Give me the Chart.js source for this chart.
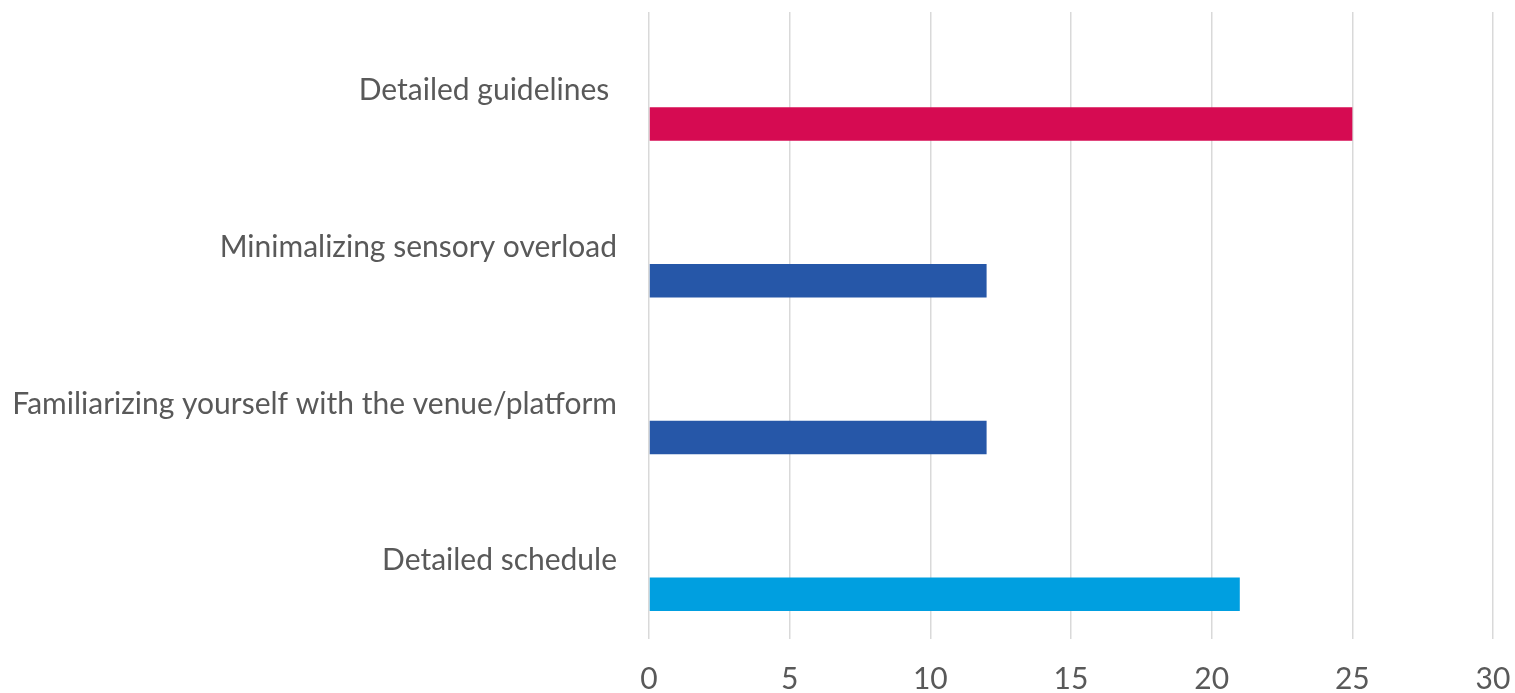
<!DOCTYPE html>
<html lang="en">
<head>
    <meta charset="UTF-8">
    <title>Preparation support</title>
    <script src="https://cdn.jsdelivr.net/npm/chart.js"></script>
    <style>
        html, body { margin: 0; padding: 0; background: #fff; overflow: hidden; }
        canvas { display: block; }
    </style>
</head>
<body>
    <canvas id="chart" width="1515" height="693"></canvas>
    <script>
        const categories = [
            "Detailed guidelines ",
            "Minimalizing sensory overload",
            "Familiarizing yourself with the venue/platform",
            "Detailed schedule"
        ];
        const values = [25, 12, 12, 21];
        // empty first series, so the bars sit below their labels like the original
        const spacer = [null, null, null, null];
        const barColors = ["#D60B52", "#2657A8", "#2657A8", "#009FE0"];
        const xTicks = [0, 5, 10, 15, 20, 25, 30];

        const textColor = "#595959";
        const font = { family: "Lato", size: 30 };

        new Chart(document.getElementById("chart"), {
            type: 'bar',
            data: {
                labels: categories,
                datasets: [
                    { label: 'spacer', data: spacer, backgroundColor: 'rgba(0,0,0,0)' },
                    { label: 'Count', data: values, backgroundColor: barColors }
                ]
            },
            options: {
                indexAxis: 'y',
                responsive: false,
                animation: false,
                categoryPercentage: 0.858,
                barPercentage: 0.5,
                layout: { padding: { top: 12, right: 22, left: 0, bottom: 0 } },
                plugins: {
                    legend: { display: false },
                    tooltip: { enabled: false }
                },
                scales: {
                    x: {
                        min: xTicks[0],
                        max: xTicks[xTicks.length - 1],
                        afterBuildTicks: s => { s.ticks = xTicks.map(v => ({ value: v })); },
                        afterFit: s => { s.height = 54; s.paddingLeft = 0; s.paddingRight = 0; },
                        border: { display: false },
                        grid: { color: '#D9D9D9', lineWidth: 1.5, drawTicks: false },
                        ticks: { color: textColor, font: font, padding: 22 }
                    },
                    y: {
                        afterFit: s => { s.width = 649; s.paddingTop = 0; s.paddingBottom = 0; },
                        border: { display: false },
                        grid: { display: false, drawTicks: false },
                        ticks: { color: textColor, font: font, padding: 32 }
                    }
                }
            }
        });
    </script>
</body>
</html>
